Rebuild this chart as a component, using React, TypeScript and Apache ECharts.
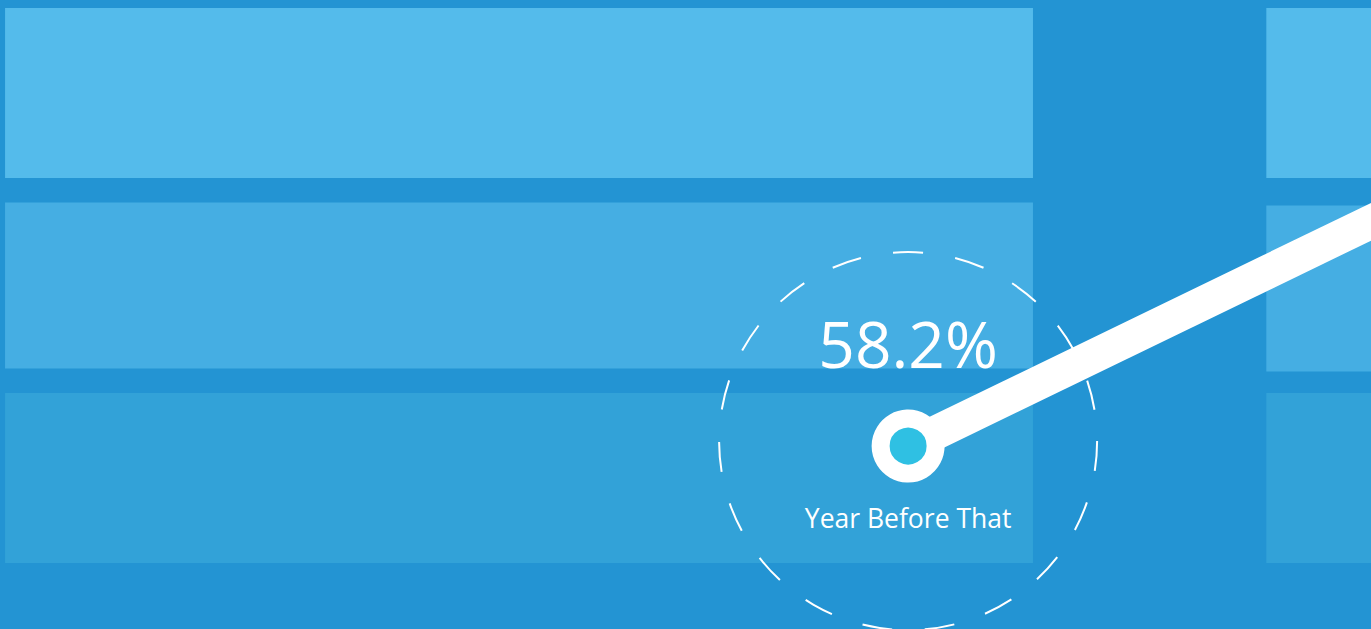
import React, { useEffect, useRef } from "react";
import * as echarts from "echarts";

// Periods shown along the (cropped) timeline and their share values
const periods = ["Year Before That", "Last Year"];
const periodIndex = [0, 1];
const shareValues = [58.2, 85.6];
const labelledPeriods = ["Year Before That"];

// Background cells: one column per period, three rows
const rowIndex = [0, 1, 2];
const rowColors = ["#54bbeb", "#45aee3", "#32a2d8"];
const rowFill = [0.883, 0.862, 0.883];
const rowShift = [0, 0.0156, 0]; // middle row sits slightly lower in later columns
const colStartOffset = -0.716;
const colEndOffset = 0.099;

const App: React.FC = () => {
  const ref = useRef<HTMLDivElement>(null);

  useEffect(() => {
    if (!ref.current) return;
    const chart = echarts.init(ref.current, undefined, { renderer: "svg" });

    const cells: number[][] = [];
    periodIndex.forEach((p) => {
      rowIndex.forEach((r) => {
        const shift = p > 0 ? rowShift[r] : 0;
        cells.push([p + colStartOffset, p + colEndOffset, r + shift, rowFill[r], r]);
      });
    });

    const linePoints = periodIndex.map((p, i) => ({
      name: periods[i],
      value: [p, shareValues[i]],
      label: { show: labelledPeriods.includes(periods[i]) },
    }));

    chart.setOption({
      animation: false,
      backgroundColor: "#2394d3",
      grid: { left: 0, right: 0, top: 0, bottom: 0, containLabel: false },
      xAxis: [{ type: "value", min: -0.72, max: 0.367, show: false }],
      yAxis: [
        { type: "value", min: 50, max: 78.2, show: false },
        { type: "value", min: -0.4831, max: 2.7844, inverse: true, show: false },
      ],
      series: [
        {
          type: "custom",
          xAxisIndex: 0,
          yAxisIndex: 1,
          silent: true,
          clip: false,
          z: 1,
          encode: { x: [0, 1], y: 2 },
          data: cells,
          renderItem: (params: any, api: any) => {
            const x0 = api.value(0);
            const x1 = api.value(1);
            const rowPos = api.value(2);
            const fill = api.value(3);
            const row = api.value(4);
            const p0 = api.coord([x0, rowPos]);
            const p1 = api.coord([x1, rowPos]);
            const bandH = Math.abs(api.size([0, 1])[1]);
            const h = bandH * fill;
            return {
              type: "rect",
              shape: { x: p0[0], y: p0[1] - h / 2, width: p1[0] - p0[0], height: h },
              style: { fill: rowColors[row] },
            };
          },
        },
        {
          type: "scatter",
          xAxisIndex: 0,
          yAxisIndex: 0,
          silent: true,
          clip: false,
          z: 2,
          symbol: "circle",
          symbolSize: 378,
          symbolOffset: [0, -5],
          itemStyle: {
            color: "transparent",
            borderColor: "#ffffff",
            borderWidth: 2,
            borderType: [30, 32.5],
            borderDashOffset: 0,
            opacity: 1,
          },
          label: {
            show: true,
            position: "inside",
            offset: [0, 77],
            formatter: (p: any) => p.name,
            color: "#ffffff",
            fontFamily: "Open Sans",
            fontSize: 26.5,
          },
          data: [linePoints[0]].map((d) => ({ name: d.name, value: d.value })),
        },
        {
          type: "line",
          xAxisIndex: 0,
          yAxisIndex: 0,
          z: 3,
          silent: true,
          clip: false,
          symbol: "circle",
          symbolSize: 55,
          showSymbol: true,
          lineStyle: { color: "#ffffff", width: 34 },
          itemStyle: { color: "#2fc0e3", borderColor: "#ffffff", borderWidth: 18 },
          label: {
            show: true,
            position: "inside",
            offset: [0, -103],
            formatter: (p: any) => p.value[1].toFixed(1) + "%",
            color: "#ffffff",
            fontFamily: "Open Sans",
            fontWeight: 400,
            fontSize: 64,
          },
          data: linePoints,
        },
      ],
    });

    return () => chart.dispose();
  }, []);

  return (
    <div
      ref={ref}
      style={{ position: "fixed", left: 0, top: 0, width: "100vw", height: "100vh" }}
    />
  );
};

export default App;
